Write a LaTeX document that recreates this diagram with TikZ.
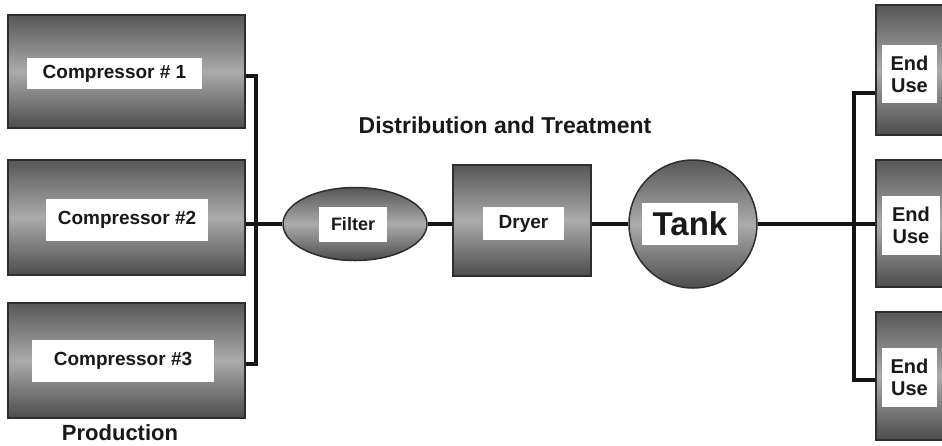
\documentclass[tikz,border=0pt]{standalone}
\usepackage{fontspec}
\setmainfont{Liberation Sans}
\usetikzlibrary{shapes.geometric,calc}
\begin{document}
\begin{tikzpicture}[x=1pt,y=-1pt,
  metal/.style={draw=black!82, line width=1.5pt, top color=black!66, bottom color=black!70, middle color=black!33, inner sep=0pt},
  tag/.style={fill=white, inner sep=0pt, align=center, text=black!90, font=\bfseries\fontsize{19}{22}\selectfont},
  title/.style={text=black!90, font=\bfseries\fontsize{23}{26}\selectfont},
  wire/.style={line width=3.6pt, black!92}]
\useasboundingbox (0,0) rectangle (942,445);
\clip (0,0) rectangle (942,445);
\fill[white] (0,0) rectangle (942,445);
% production
\node[metal, rectangle, minimum width=237, minimum height=113] (c1) at (126.5,71.5) {};
\node[metal, rectangle, minimum width=237, minimum height=115] (c2) at (126.5,217.5) {};
\node[metal, rectangle, minimum width=237, minimum height=115] (c3) at (126.5,360.5) {};
\node[tag, minimum width=175, minimum height=31] (c1l) at (114.5,73.5) {Compressor \# 1};
\node[tag, minimum width=162, minimum height=42] (c2l) at (127,220) {Compressor \#2};
\node[tag, minimum width=182, minimum height=42] (c3l) at (123,361) {Compressor \#3};
\node[title, font=\bfseries\fontsize{22}{26}\selectfont] (prod) at (120,433) {Production};
% treatment
\node[metal, ellipse, minimum width=144, minimum height=73] (filter) at (355,224) {};
\node[metal, rectangle, minimum width=138, minimum height=111] (dryer) at (522,220.5) {};
\node[metal, circle, minimum size=128] (tank) at (693,224) {};
\node[tag, minimum width=68, minimum height=35, font=\bfseries\fontsize{18}{22}\selectfont] (filterl) at (353,224.5) {Filter};
\node[tag, minimum width=81, minimum height=33] (dryerl) at (523.5,223.5) {Dryer};
\node[tag, minimum width=96, minimum height=42, font=\bfseries\fontsize{33}{36}\selectfont] (tankl) at (690,224) {Tank};
\node[title] (dist) at (505,125) {Distribution and Treatment};
% end use
\node[metal, rectangle, minimum width=124, minimum height=130] (e1) at (938,70) {};
\node[metal, rectangle, minimum width=124, minimum height=127] (e2) at (938,223.5) {};
\node[metal, rectangle, minimum width=124, minimum height=128] (e3) at (938,376) {};
\node[tag, minimum width=55, minimum height=58, font=\bfseries\fontsize{20}{22}\selectfont] (e1l) at (909.5,74) {End\\Use};
\node[tag, minimum width=58, minimum height=59, font=\bfseries\fontsize{20}{22}\selectfont] (e2l) at (911,225.5) {End\\Use};
\node[tag, minimum width=55, minimum height=59, font=\bfseries\fontsize{20}{22}\selectfont] (e3l) at (909.5,377.5) {End\\Use};
% connectors
\coordinate (b1) at (256,76);
\coordinate (b3) at (256,364);
\coordinate (eb1) at (854,93);
\coordinate (eb3) at (854,380);
\draw[wire] ([yshift=-4.5pt]c1.east) -- (b1) -- (b3) -- ([yshift=-3.5pt]c3.east);
\draw[wire] ([yshift=-6.5pt]c2.east) -- (filter.west);
\draw[wire] (filter.east) -- (filter.east -| dryer.west);
\draw[wire] (dryer.east |- tank.west) -- (tank.west);
\draw[wire] (tank.east) -- (tank.east -| e2.west);
\draw[wire] (eb1 -| e1.west) -- (eb1) -- (eb3) -- (eb3 -| e3.west);
\end{tikzpicture}
\end{document}
